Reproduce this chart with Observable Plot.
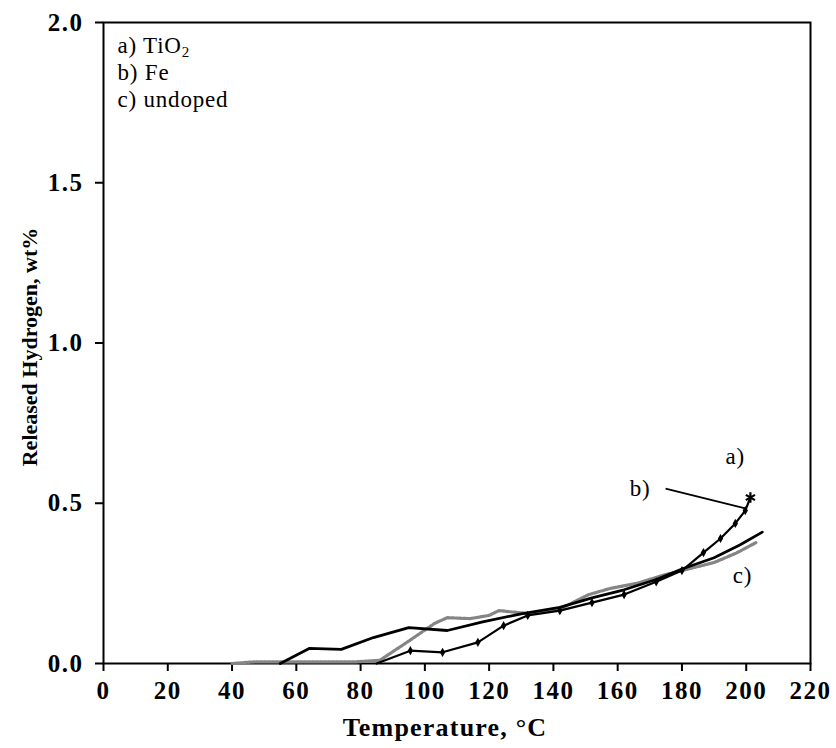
<!DOCTYPE html>
<html>
<head>
<meta charset="utf-8">
<script src="https://cdn.jsdelivr.net/npm/d3@7"></script>
<script src="https://cdn.jsdelivr.net/npm/@observablehq/plot@0.6"></script>
<style>
  html, body { margin: 0; padding: 0; background: white; }
  #chart svg g[aria-label="x-axis tick label"] text,
  #chart svg g[aria-label="y-axis tick label"] text { letter-spacing: 1.5px; }
  #chart svg .xtitle text { letter-spacing: 1.2px; }
  #chart svg .legend text, #chart svg .clabel text { letter-spacing: 0.8px; }
</style>
</head>
<body>
<div id="chart"></div>
<script>
// Curve with square markers (ends with asterisk point)
const markT = [85, 95.5, 105.5, 116.5, 124.5, 132, 142, 152, 162, 172, 180, 186.7, 192, 196.6, 199.7, 201.3];
const markH = [0, 0.04, 0.035, 0.066, 0.118, 0.15, 0.165, 0.19, 0.215, 0.255, 0.29, 0.346, 0.39, 0.437, 0.477, 0.518];

// Gray hatched curve
const grayT = [40, 47, 55, 62, 70, 78, 86, 95, 103, 107, 114, 120, 123, 132, 142, 151, 158, 166, 174, 182, 190, 197, 203];
const grayH = [0, 0.005, 0.005, 0.005, 0.005, 0.005, 0.01, 0.07, 0.125, 0.143, 0.14, 0.15, 0.165, 0.156, 0.17, 0.215, 0.235, 0.25, 0.275, 0.295, 0.315, 0.345, 0.377];

// Solid black curve
const solidT = [55, 64, 74, 84, 95, 107, 118, 130, 142, 152, 162, 172, 180, 190, 198, 205];
const solidH = [0, 0.047, 0.044, 0.081, 0.112, 0.103, 0.13, 0.155, 0.175, 0.205, 0.23, 0.262, 0.295, 0.33, 0.37, 0.41];

const xTicks = [0, 20, 40, 60, 80, 100, 120, 140, 160, 180, 200, 220];
const yTicks = [0, 0.5, 1.0, 1.5, 2.0];

const legendLines = ["a) TiO2", "b) Fe", "c) undoped"];
const curveLabels = [
  {t: 196.6, h: 0.646, label: "a)"},
  {t: 167, h: 0.546, label: "b)"},
  {t: 198.8, h: 0.275, label: "c)"}
];
const pointer = [{t1: 174.9, h1: 0.546, t2: 199.7, h2: 0.484}];

const toRows = (T, H) => T.map((t, i) => ({t, h: H[i]}));
const markRows = toRows(markT, markH);
const grayRows = toRows(grayT, grayH);
const solidRows = toRows(solidT, solidH);

const chart = Plot.plot({
  width: 836,
  height: 748,
  marginLeft: 103,
  marginRight: 26,
  marginTop: 22,
  marginBottom: 85,
  style: {fontFamily: "'Liberation Serif', 'Times New Roman', serif", color: "black", background: "white"},
  x: {domain: [0, 220]},
  y: {domain: [0, 2]},
  marks: [
    Plot.axisX({ticks: xTicks, tickSize: 8, tickPadding: 10, strokeWidth: 2, fontWeight: "bold", fontSize: 25, label: null}),
    Plot.axisY({ticks: yTicks, tickFormat: d3.format(".1f"), tickSize: 8, tickPadding: 12, strokeWidth: 2, fontWeight: "bold", fontSize: 25, label: null}),
    Plot.frame({stroke: "black", strokeWidth: 2}),
    Plot.text(["Temperature, °C"], {frameAnchor: "bottom", dx: -12, dy: 72, text: d => d, fontWeight: "bold", fontSize: 26, className: "xtitle"}),
    Plot.text(["Released Hydrogen, wt%"], {frameAnchor: "left", textAnchor: "middle", dx: -74, dy: 4, rotate: -90, text: d => d, fontWeight: "bold", fontSize: 22}),
    Plot.line(grayRows, {x: "t", y: "h", stroke: "#858585", strokeWidth: 3.2, strokeDasharray: "2.5,1.5"}),
    Plot.line(solidRows, {x: "t", y: "h", stroke: "black", strokeWidth: 2.8}),
    Plot.line(markRows, {x: "t", y: "h", stroke: "black", strokeWidth: 2.2}),
    Plot.dot(markRows.slice(1, -1), {x: "t", y: "h", symbol: "diamond", r: 2.8, fill: "black"}),
    Plot.dot(markRows.slice(-1), {x: "t", y: "h", symbol: "asterisk", r: 5, stroke: "black", strokeWidth: 2.2}),
    Plot.link(pointer, {x1: "t1", y1: "h1", x2: "t2", y2: "h2", stroke: "black", strokeWidth: 1.8}),
    Plot.text(curveLabels, {x: "t", y: "h", text: "label", fontSize: 23, className: "clabel"}),
    Plot.text(legendLines, {frameAnchor: "top-left", dx: 14, text: d => d, fontSize: 23, textAnchor: "start", className: "legend"})
  ]
});

document.getElementById("chart").appendChild(chart);

// Stack the legend lines and add the subscript
const svg = d3.select(chart);
svg.selectAll("text").each(function() {
  const el = d3.select(this);
  const txt = el.text();
  const idx = legendLines.indexOf(txt);
  if (idx >= 0) {
    const t = el.attr("transform") || "";
    el.attr("transform", t + ` translate(0,${14 + idx * 27})`);
    if (txt === "a) TiO2") {
      el.text("a) TiO");
      el.append("tspan").attr("dy", "0.3em").attr("font-size", 15).text("2");
    }
  }
});
</script>
</body>
</html>
